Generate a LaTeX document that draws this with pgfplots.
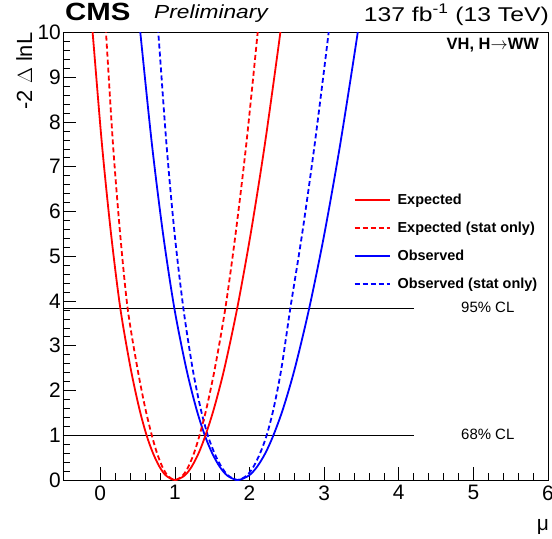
\documentclass[border=0pt]{standalone}
\usepackage{pgfplots}
\pgfplotsset{compat=1.18}
\usepackage{graphicx}
\usepackage{fontspec}
\setmainfont{Liberation Sans}

\definecolor{rootred}{RGB}{255,0,0}
\definecolor{rootblue}{RGB}{0,0,255}
\tikzset{
    exp/.style={draw=rootred, line width=1.8bp},
    obs/.style={draw=rootblue, line width=1.8bp},
    statonly/.style={dash pattern=on 5bp off 3bp},
}

\begin{document}
\begin{tikzpicture}
\begin{axis}[
    at={(0,0)}, anchor=south west,
    scale only axis,
    width=485bp, height=447.5bp,
    xmin=-0.5, xmax=6,
    ymin=0, ymax=10,
    xtick={0,1,2,3,4,5,6},
    ytick={0,1,...,10},
    minor x tick num=4,
    minor y tick num=4,
    tick align=inside,
    xtick pos=lower, ytick pos=left,
    major tick length=13bp,
    minor tick length=7bp,
    tick style={black, line width=0.6bp},
    axis line style={black, line width=0.8bp},
    tick label style={font=\fontsize{21}{21}\selectfont},
    xticklabel style={yshift=-2bp},
    yticklabel style={inner xsep=2bp},
    /pgf/number format/assume math mode=true,
    legend style={at={(rel axis cs:0.593,0.648)}, anchor=north west,
        draw=none, fill=none, row sep=12bp,
        font=\bfseries\fontsize{14.5}{15}\selectfont},
    legend cell align=left,
    legend image code/.code={\draw[#1] (0bp,0bp) -- (35bp,0bp); \path (40bp,0bp);},
]
\addlegendimage{exp}
\addlegendentry{Expected}
\addlegendimage{exp, statonly}
\addlegendentry{Expected (stat only)}
\addlegendimage{obs}
\addlegendentry{Observed}
\addlegendimage{obs, statonly}
\addlegendentry{Observed (stat only)}
% CL lines
\addplot[black, line width=0.7bp, forget plot] coordinates {(-0.5,3.84) (4.2,3.84)};
\addplot[black, line width=0.7bp, forget plot] coordinates {(-0.5,1) (4.2,1)};
% Observed (stat only)
\addplot[obs, statonly, smooth, forget plot] coordinates {
    (0.725,11) (0.777,10) (0.887,7.5) (0.996,5.5) (1.113,3.84) (1.236,2.5)
    (1.344,1.6) (1.44,1) (1.530,0.6) (1.621,0.3) (1.714,0.1) (1.84,0)
    (1.963,0.1) (2.054,0.3) (2.142,0.6) (2.23,1) (2.323,1.6) (2.428,2.5)
    (2.547,3.84) (2.705,5.5) (2.873,7.5) (3.06,10) (3.12,11)};
% Observed
\addplot[obs, smooth, forget plot] coordinates {
    (0.473,11) (0.536,10) (0.692,7.5) (0.841,5.5) (0.992,3.84) (1.151,2.5)
    (1.286,1.6) (1.40,1) (1.499,0.6) (1.599,0.3) (1.701,0.1) (1.84,0)
    (1.992,0.1) (2.103,0.3) (2.212,0.6) (2.32,1) (2.451,1.6) (2.608,2.5)
    (2.80,3.84) (3.003,5.5) (3.215,7.5) (3.45,10) (3.528,11)};
% Expected (stat only)
\addplot[exp, statonly, smooth, forget plot] coordinates {
    (0.031,11) (0.076,10) (0.170,7.5) (0.266,5.5) (0.366,3.84) (0.497,2.5)
    (0.603,1.6) (0.690,1) (0.760,0.6) (0.830,0.3) (0.902,0.1) (1,0)
    (1.104,0.1) (1.181,0.3) (1.256,0.6) (1.33,1) (1.423,1.6) (1.536,2.5)
    (1.676,3.84) (1.813,5.5) (1.956,7.5) (2.109,10) (2.164,11)};
% Expected
\addplot[exp, smooth, forget plot] coordinates {
    (-0.158,11) (-0.103,10) (0.022,7.5) (0.144,5.5) (0.268,3.84) (0.406,2.5)
    (0.522,1.6) (0.620,1) (0.706,0.6) (0.792,0.3) (0.880,0.1) (1,0)
    (1.130,0.1) (1.225,0.3) (1.318,0.6) (1.41,1) (1.524,1.6) (1.664,2.5)
    (1.835,3.84) (2.015,5.5) (2.205,7.5) (2.413,10) (2.483,11)};
\end{axis}
% texts (frame lower left at (0,0))
\node[anchor=base west, inner sep=0, font=\bfseries\fontsize{25}{25}\selectfont] at (2bp,459bp) {\scalebox{1.18}[1]{CMS}};
\node[anchor=base west, inner sep=0, font=\itshape\fontsize{19}{19}\selectfont] at (91bp,461bp) {\scalebox{1.2}[1]{Preliminary}};
\node[anchor=base east, inner sep=0, font=\fontsize{20}{20}\selectfont] at (486bp,458.5bp) {\scalebox{1.24}[1]{137 fb\textsuperscript{-1} (13 TeV)}};
\node[anchor=base east, inner sep=0, font=\bfseries\fontsize{16.5}{17}\selectfont] at (476bp,430bp) {VH, H$\rightarrow$WW};
\node[anchor=base east, inner sep=0, rotate=90, font=\fontsize{22}{22}\selectfont] at (-31bp,447.5bp) {-2 $\Delta$ lnL};
\node[anchor=base east, inner sep=0, font=\fontsize{21}{21}\selectfont] at (486bp,-50bp) {μ};
\node[anchor=west, inner sep=0, font=\fontsize{15}{15}\selectfont] at (398bp,172.5bp) {95\% CL};
\node[anchor=west, inner sep=0, font=\fontsize{15}{15}\selectfont] at (398bp,45.5bp) {68\% CL};
\pgfresetboundingbox
\path (-63bp,-59bp) rectangle (489bp,480bp);
\end{tikzpicture}
\end{document}
